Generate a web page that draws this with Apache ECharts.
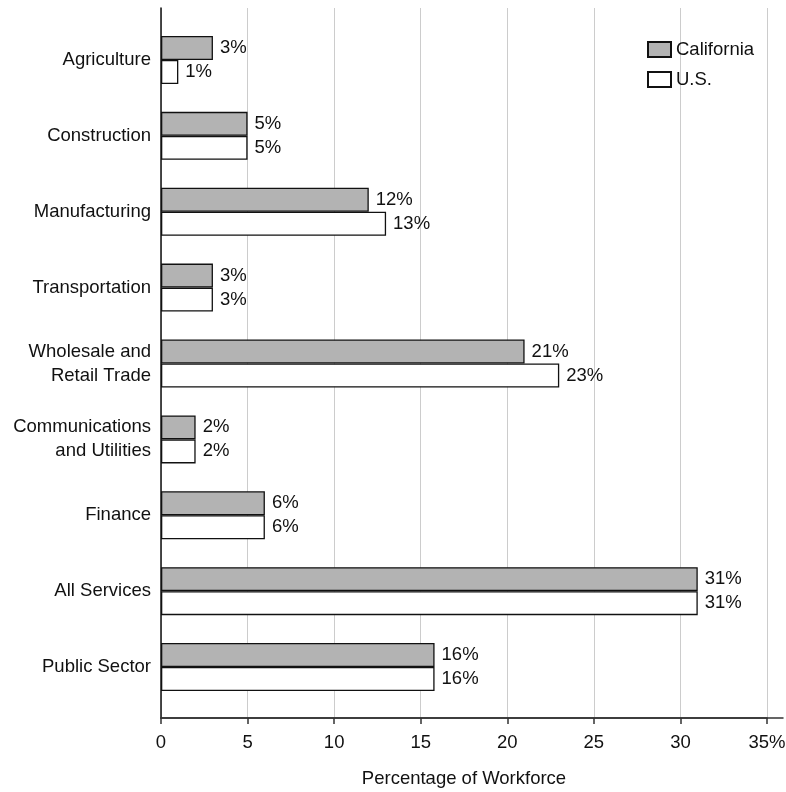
<!DOCTYPE html>
<html>
<head>
<meta charset="utf-8">
<script src="https://cdn.jsdelivr.net/npm/echarts@6/dist/echarts.min.js"></script>
<style>html,body{margin:0;padding:0;background:#fff}#c{width:786px;height:792px}</style>
</head>
<body>
<div id="c"></div>
<script>
var categories = ['Agriculture', 'Construction', 'Manufacturing', 'Transportation', 'Wholesale and\nRetail Trade', 'Communications\nand Utilities', 'Finance', 'All Services', 'Public Sector'];
var california = [3, 5, 12, 3, 21, 2, 6, 31, 15.8];
var us = [1, 5, 13, 3, 23, 2, 6, 31, 15.8];
var xTicks = [0, 5, 10, 15, 20, 25, 30, 35];

var FONT = 'Liberation Sans';
var FS = 18.5;
var chart = echarts.init(document.getElementById('c'));
var lbl = {
  show: true, position: 'right', distance: 7, color: '#111', fontFamily: FONT, fontSize: FS,
  formatter: function (p) { return Math.round(p.value) + '%'; }
};
chart.setOption({
  animation: false,
  textStyle: { fontFamily: FONT },
  grid: [
    { left: 161, right: 19, top: 8, height: 710, outerBoundsMode: 'none', containLabel: false },
    { left: 161, right: 19, top: 22, height: 683, outerBoundsMode: 'none', containLabel: false },
    { left: 161, right: 3, top: 8, height: 710, outerBoundsMode: 'none', containLabel: false }
  ],
  legend: {
    orient: 'vertical', left: 642, top: 35, itemWidth: 23, itemHeight: 15, itemGap: 11,
    icon: 'rect',
    textStyle: { fontFamily: FONT, fontSize: FS, color: '#111' },
    data: ['California', 'U.S.']
  },
  xAxis: [
    {
      gridIndex: 0, type: 'value', min: xTicks[0], max: xTicks[xTicks.length - 1], interval: 5,
      axisLine: { show: true, onZero: false, lineStyle: { color: '#333', width: 1.5 } },
      axisTick: { show: true, length: 6, lineStyle: { color: '#333', width: 1.5 } },
      axisLabel: { margin: 15, color: '#111', fontFamily: FONT, fontSize: FS,
        formatter: function (v) { return v === 35 ? '35%' : String(v); } },
      splitLine: { show: true, lineStyle: { color: '#cccccc', width: 1 } },
      name: 'Percentage of Workforce', nameLocation: 'middle', nameGap: 51,
      nameTextStyle: { fontFamily: FONT, fontSize: FS, color: '#111' }
    },
    { gridIndex: 1, type: 'value', min: 0, max: 35, show: false },
    {
      gridIndex: 2, type: 'value', min: 0, max: 1,
      axisLine: { show: true, onZero: false, lineStyle: { color: '#333', width: 1.5 } },
      axisTick: { show: false }, axisLabel: { show: false }, splitLine: { show: false }
    }
  ],
  yAxis: [
    {
      gridIndex: 0, type: 'value', min: 0, max: 1,
      axisLine: { show: true, onZero: false, lineStyle: { color: '#111', width: 1.5 } },
      axisTick: { show: false }, axisLabel: { show: false }, splitLine: { show: false }
    },
    {
      gridIndex: 1, type: 'category', data: categories, inverse: true,
      axisLine: { show: false }, axisTick: { show: false },
      axisLabel: { margin: 10, color: '#111', fontFamily: FONT, fontSize: FS, lineHeight: 24,
        align: 'right', padding: [4, 0, 0, 0] }
    },
    { gridIndex: 2, type: 'value', min: 0, max: 1, show: false }
  ],
  series: [
    {
      name: 'California', type: 'bar', xAxisIndex: 1, yAxisIndex: 1, data: california,
      barWidth: 24, barGap: '0%',
      itemStyle: { color: '#b3b3b3', borderColor: '#111', borderWidth: 1.3 },
      label: lbl
    },
    {
      name: 'U.S.', type: 'bar', xAxisIndex: 1, yAxisIndex: 1, data: us,
      barWidth: 24, barGap: '0%',
      itemStyle: { color: '#ffffff', borderColor: '#111', borderWidth: 1.3 },
      label: lbl
    }
  ]
});
</script>
</body>
</html>
